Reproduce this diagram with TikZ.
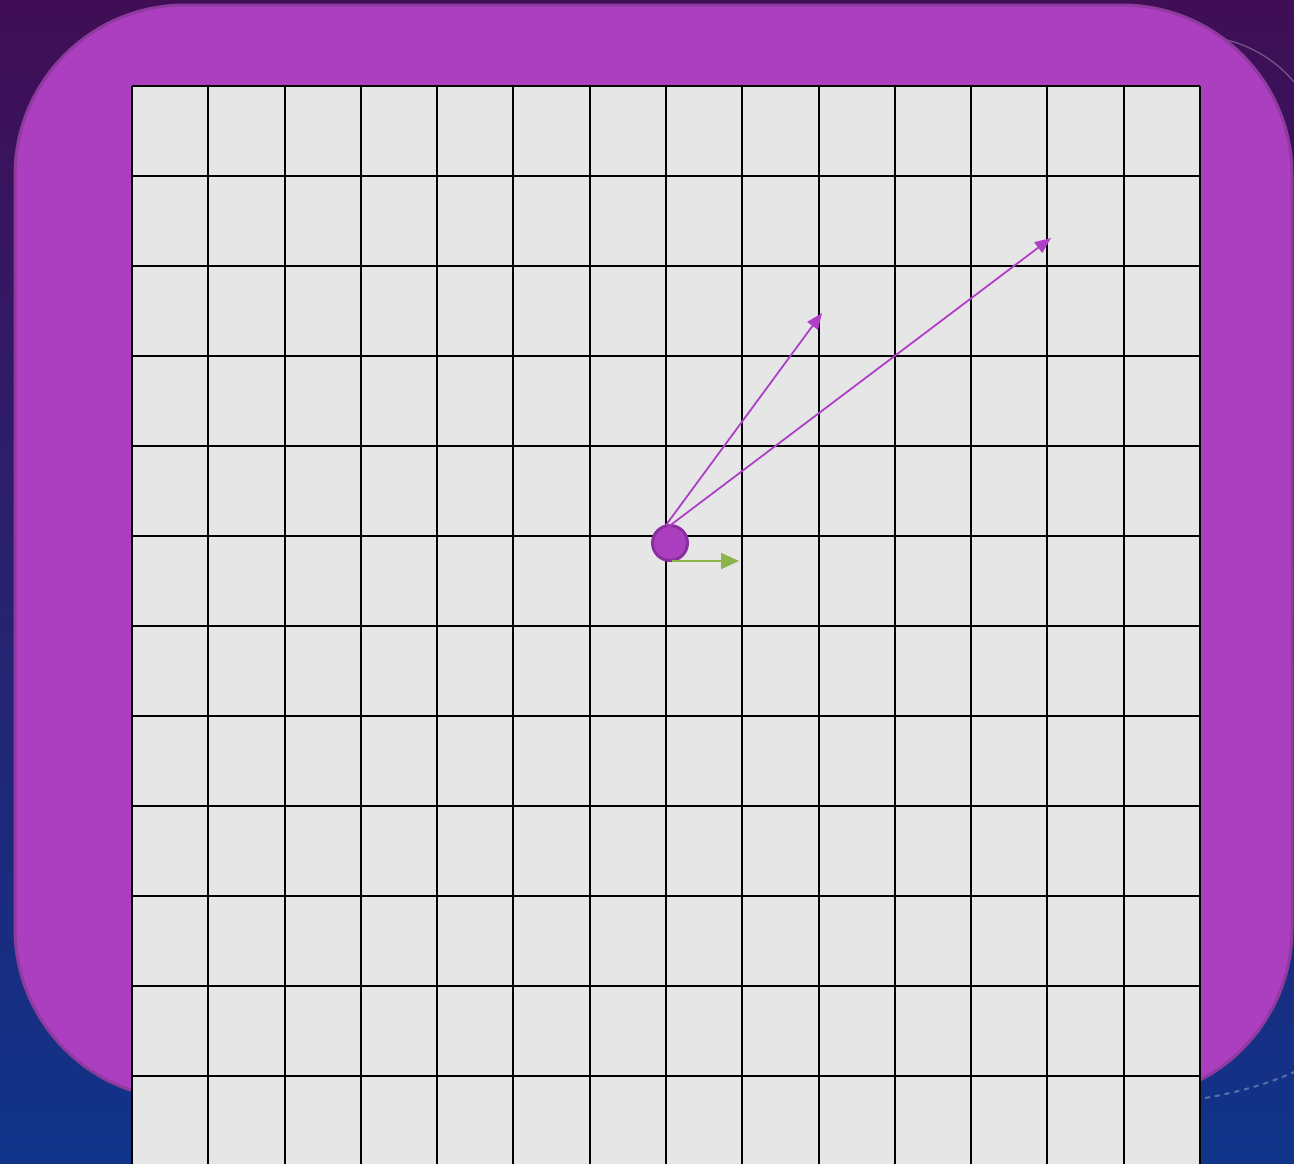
\documentclass[tikz,border=0pt]{standalone}
\usetikzlibrary{arrows.meta}
\definecolor{bgtop}{HTML}{400E55}
\definecolor{bgbot}{HTML}{10348A}
\definecolor{panel}{HTML}{AB3FBF}
\definecolor{panelrim}{HTML}{8E3A9E}
\definecolor{cellfill}{HTML}{E6E6E6}
\definecolor{vecpurple}{HTML}{B03FC8}
\definecolor{vecgreen}{HTML}{8DB44B}
\definecolor{dotrim}{HTML}{8A2FA0}
\tikzset{
  gridline/.style={black, line width=2pt},
  vecline/.style={vecpurple, line width=1.8pt, -{Triangle[length=16pt,width=13pt]}},
  velline/.style={vecgreen, line width=1.8pt, -{Triangle[length=18pt,width=16pt]}},
  body/.style={circle, fill=panel, draw=dotrim, line width=3pt, minimum size=35pt, inner sep=0pt},
  deco/.style={white, opacity=0.3, line width=1.2pt}
}
\begin{document}
\begin{tikzpicture}[x=1pt,y=-1pt]
\useasboundingbox (0,0) rectangle (1294,1163);
\clip (0,0) rectangle (1294,1163);
% background
\shade[top color=bgtop, bottom color=bgbot] (0,0) rectangle (1294,1163);
\draw[deco] (1218,38) .. controls (1255,45) and (1280,65) .. (1294,82);
\draw[deco, dashed, dash pattern=on 5pt off 5pt, line width=2pt] (1205,1098) .. controls (1240,1092) and (1270,1083) .. (1294,1072);
% panel
\draw[fill=panel, draw=panelrim, line width=3pt, rounded corners=170pt] (15,5) rectangle (1292,1099);
% grid
\fill[cellfill] (132,86) rectangle (1200,1170);
\foreach \x in {132,208.3,284.6,360.9,437.1,513.4,589.7,666,742.3,818.6,894.9,971.1,1047.4,1123.7,1200}
  \draw[gridline] (\x,86) -- (\x,1170);
\foreach \y in {86,176,266,356,446,536,626,716,806,896,986,1076}
  \draw[gridline] (132,\y) -- (1200,\y);
% body and vectors
\node[body] (p) at (670,543) {};
\coordinate (a1) at (666,525);
\coordinate (a2) at (668,527);
\coordinate (t1) at (822,313);
\coordinate (t2) at (1051,238);
\coordinate (g0) at (672,561);
\coordinate (g1) at (739,561);
\draw[vecline] (a1) -- (t1);
\draw[vecline] (a2) -- (t2);
\draw[velline] (g0) -- (g1);
\end{tikzpicture}
\end{document}
